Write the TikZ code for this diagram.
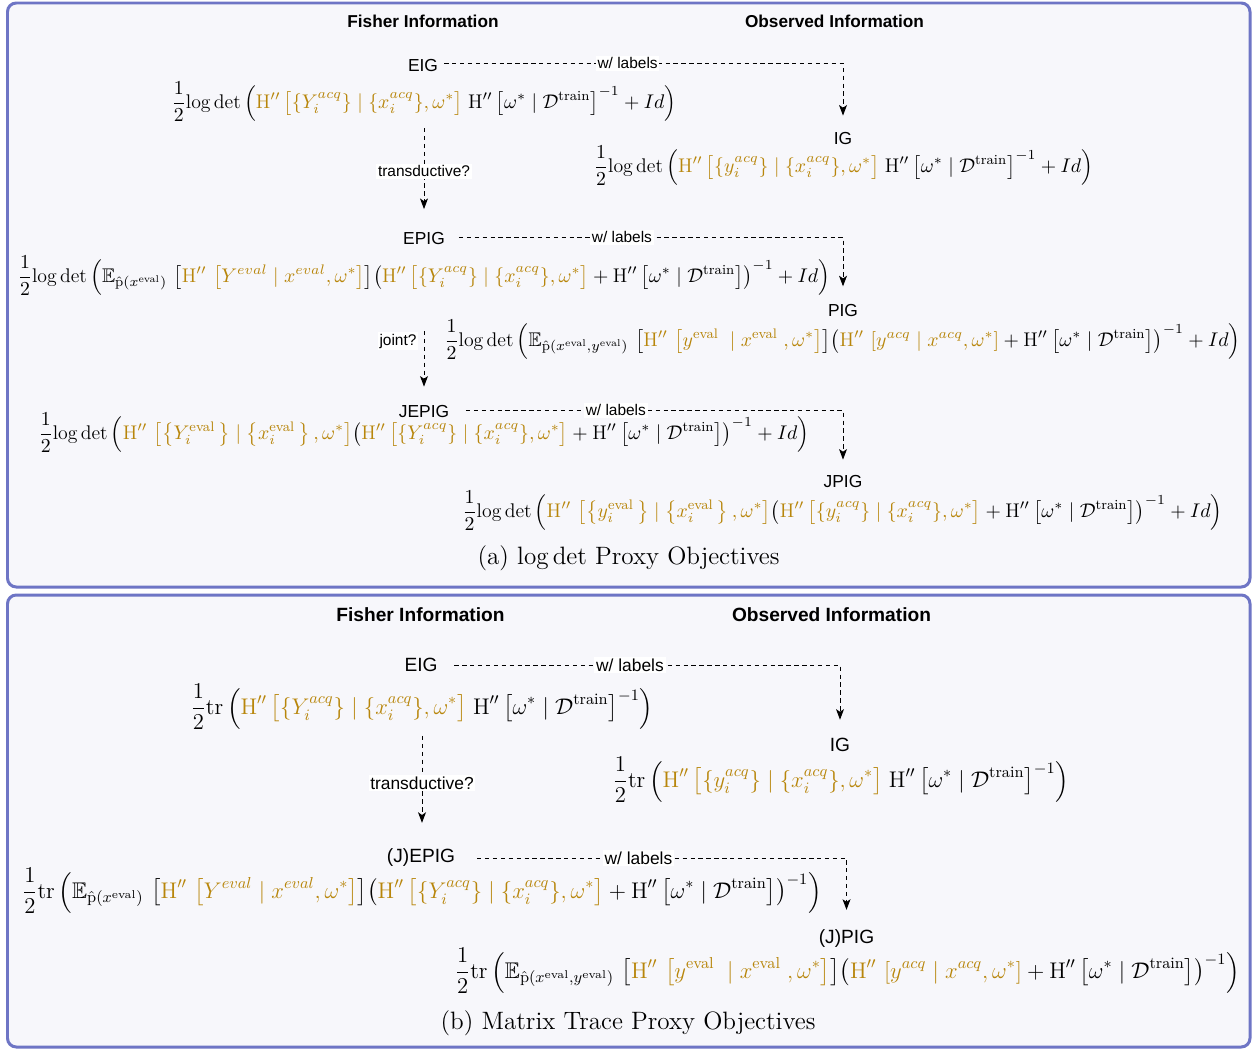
\RequirePackage{fix-cm}
\documentclass[tikz,border=0pt]{standalone}
\usepackage{amsmath,amssymb}
\usepackage{fontspec}
\setsansfont{Liberation Sans}
\usetikzlibrary{arrows.meta,positioning}
\definecolor{gold}{HTML}{B8860B}
\definecolor{panelline}{HTML}{6E75C5}
\definecolor{panelfill}{HTML}{F7F7FB}
\newcommand{\Hpp}{\mathrm{H}''}
\newcommand{\gd}[1]{\textcolor{gold}{#1}}
\newcommand{\Dtr}{\mathcal{D}^{\text{train}}}
\newcommand{\half}{\frac{1}{2}\!}
\begin{document}
\begin{tikzpicture}[x=0.02cm,y=-0.02cm]
	\tikzstyle{Panel} = [draw=panelline, line width=1.7pt, rounded corners=5pt, fill=panelfill]
	\tikzstyle{HeadA} = [font=\sffamily\bfseries\fontsize{9.8}{12}\selectfont]
	\tikzstyle{HeadB} = [font=\sffamily\bfseries\fontsize{10.9}{13}\selectfont]
	\tikzstyle{ObjA} = [font=\sffamily\fontsize{9.9}{12}\selectfont]
	\tikzstyle{ObjB} = [font=\sffamily\fontsize{10.9}{13}\selectfont]
	\tikzstyle{FormA} = [font=\fontsize{11.25}{13}\selectfont]
	\tikzstyle{FormB} = [font=\fontsize{12.9}{15}\selectfont]
	\tikzstyle{Caption} = [font=\fontsize{14.3}{17}\selectfont]
	\tikzstyle{TagA} = [fill=white, inner sep=1pt, font=\sffamily\fontsize{8.8}{10}\selectfont]
	\tikzstyle{TagB} = [fill=white, inner sep=1pt, font=\sffamily\fontsize{9.9}{11}\selectfont]
	\tikzstyle{arrow} = [line width=0.55pt, dash pattern=on 2.5pt off 2pt, ->, >={Stealth[length=6pt, width=4.5pt, inset=1.5pt]}]
	
	\useasboundingbox (0,0) rectangle (1257,1051);
	\draw [Panel] (7.5,3) rectangle (1250,587);
	\draw [Panel] (7.5,595) rectangle (1250,1047);
	
	\node (fisherA) [HeadA] at (423,21) {Fisher Information};
	\node (observedA) [HeadA] at (834.5,21) {Observed Information};
	\node (eigA) [ObjA] at (423,66) {EIG};
	\node (eigAf) [FormA] at (424,102) {$\displaystyle \half\log\det\left(\gd{\Hpp\,\big[\{Y_i^{acq}\}\mid\{x_i^{acq}\},\omega^*\big]}\;\Hpp\left[\omega^*\mid\Dtr\right]^{-1}+Id\right)$};
	\node (igA) [ObjA] at (843,138.5) {IG};
	\node (igAf) [FormA] at (843.5,166) {$\displaystyle \half\log\det\left(\gd{\Hpp\,\big[\{y_i^{acq}\}\mid\{x_i^{acq}\},\omega^*\big]}\;\Hpp\left[\omega^*\mid\Dtr\right]^{-1}+Id\right)$};
	\node (epigA) [ObjA] at (424,239) {EPIG};
	\node (epigAf) [FormA] at (424,276) {$\displaystyle \half\log\det\left(\mathbb{E}_{\hat{\mathrm{p}}\left(x^{\text{eval}}\right)}\,\left[\gd{\Hpp\,\left[Y^{eval}\mid x^{eval},\omega^*\right]}\right]\!\left(\gd{\Hpp\,\big[\{Y_i^{acq}\}\mid\{x_i^{acq}\},\omega^*\big]}+\Hpp\left[\omega^*\mid\Dtr\right]\right)^{-1}+Id\right)$};
	\node (pigA) [ObjA] at (843,311) {PIG};
	\node (pigAf) [FormA] at (842.5,340) {$\displaystyle \half\log\det\left(\mathbb{E}_{\hat{\mathrm{p}}\left(x^{\text{eval}},y^{\text{eval}}\right)}\,\left[\gd{\Hpp\,\left[y^{\text{eval}}\;\mid x^{\text{eval}}\;,\omega^*\right]}\right]\!\left(\gd{\Hpp\,\left[y^{acq}\mid x^{acq},\omega^*\right]}+\Hpp\left[\omega^*\mid\Dtr\right]\right)^{-1}+Id\right)$};
	\node (jepigA) [ObjA] at (424,412) {JEPIG};
	\node (jepigAf) [FormA] at (424,433) {$\displaystyle \half\log\det\left(\gd{\Hpp\,\left[\left\{Y_i^{\text{eval}}\,\right\}\mid\left\{x_i^{\text{eval}}\,\right\},\omega^*\right]}\!\left(\gd{\Hpp\,\big[\{Y_i^{acq}\}\mid\{x_i^{acq}\},\omega^*\big]}+\Hpp\left[\omega^*\mid\Dtr\right]\right)^{-1}+Id\right)$};
	\node (jpigA) [ObjA] at (843,482) {JPIG};
	\node (jpigAf) [FormA] at (842.5,511) {$\displaystyle \half\log\det\left(\gd{\Hpp\,\left[\left\{y_i^{\text{eval}}\,\right\}\mid\left\{x_i^{\text{eval}}\,\right\},\omega^*\right]}\!\left(\gd{\Hpp\,\big[\{y_i^{acq}\}\mid\{x_i^{acq}\},\omega^*\big]}+\Hpp\left[\omega^*\mid\Dtr\right]\right)^{-1}+Id\right)$};
	\node (capA) [Caption] at (628.5,558) {(a) $\log\det$ Proxy Objectives};
	
	\draw [arrow, shorten >=6pt] ([yshift=1.5pt]eigA.east) -| node[TagA, pos=0.23] {w/ labels} (igA.north);
	\draw [arrow, shorten >=10pt] (eigAf.south) -- node[TagA, pos=0.44] {transductive?} (epigA.north);
	\draw [arrow, shorten <=4.5pt, shorten >=7pt] ([yshift=1pt]epigA.east) -| node[TagA, pos=0.218] {w/ labels} (pigA.north);
	\draw [arrow, shorten <=16.5pt, shorten >=7.4pt] (epigAf.south) -- node[TagA, pos=0.4, left=3pt] {joint?} (jepigA.north);
	\draw [arrow, shorten <=6pt, shorten >=5.7pt] ([yshift=1pt]jepigA.east) -| node[TagA, pos=0.207] {w/ labels} (jpigA.north);
	
	\node (fisherB) [HeadB] at (420.5,615) {Fisher Information};
	\node (observedB) [HeadB] at (831.5,615) {Observed Information};
	\node (eigB) [ObjB] at (421,665) {EIG};
	\node (eigBf) [FormB] at (422,707) {$\displaystyle \half\operatorname{tr}\left(\gd{\Hpp\,\big[\{Y_i^{acq}\}\mid\{x_i^{acq}\},\omega^*\big]}\;\Hpp\left[\omega^*\mid\Dtr\right]^{-1}\right)$};
	\node (igB) [ObjB] at (840,745) {IG};
	\node (igBf) [FormB] at (841,780) {$\displaystyle \half\operatorname{tr}\left(\gd{\Hpp\,\big[\{y_i^{acq}\}\mid\{x_i^{acq}\},\omega^*\big]}\;\Hpp\left[\omega^*\mid\Dtr\right]^{-1}\right)$};
	\node (jepigB) [ObjB] at (421,858) {(J)EPIG};
	\node (jepigBf) [FormB] at (422,891) {$\displaystyle \half\operatorname{tr}\left(\mathbb{E}_{\hat{\mathrm{p}}\left(x^{\text{eval}}\right)}\,\left[\gd{\Hpp\,\left[Y^{eval}\mid x^{eval},\omega^*\right]}\right]\!\left(\gd{\Hpp\,\big[\{Y_i^{acq}\}\mid\{x_i^{acq}\},\omega^*\big]}+\Hpp\left[\omega^*\mid\Dtr\right]\right)^{-1}\right)$};
	\node (jpigB) [ObjB] at (846.5,939) {(J)PIG};
	\node (jpigBf) [FormB] at (847.5,971) {$\displaystyle \half\operatorname{tr}\left(\mathbb{E}_{\hat{\mathrm{p}}\left(x^{\text{eval}},y^{\text{eval}}\right)}\,\left[\gd{\Hpp\,\left[y^{\text{eval}}\;\mid x^{\text{eval}}\;,\omega^*\right]}\right]\!\left(\gd{\Hpp\,\left[y^{acq}\mid x^{acq},\omega^*\right]}+\Hpp\left[\omega^*\mid\Dtr\right]\right)^{-1}\right)$};
	\node (capB) [Caption] at (628,1023) {(b) Matrix Trace Proxy Objectives};
	
	\draw [arrow, shorten <=6pt, shorten >=7pt] (eigB.east) -| node[TagB, pos=0.235] {w/ labels} (igB.north);
	\draw [arrow, shorten >=11.4pt] (eigBf.south) -- node[TagB, pos=0.44] {transductive?} (eigBf.south |- jepigB.north);
	\draw [arrow, shorten <=9pt, shorten >=8pt] (jepigB.east) -| node[TagB, pos=0.23] {w/ labels} (jpigB.north);
\end{tikzpicture}
\end{document}
